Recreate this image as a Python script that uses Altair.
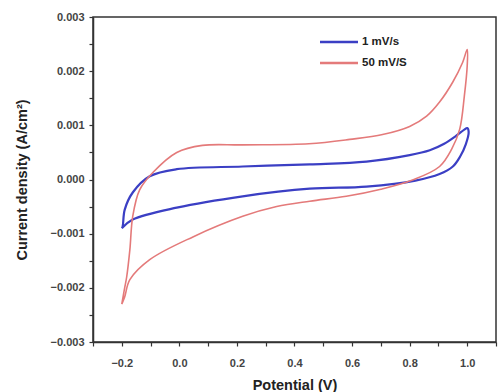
import altair as alt
import pandas as pd

# Cyclic voltammograms: each loop is listed in scan order (forward sweep, then reverse)
blue_label = "1 mV/s"
blue_v = [-0.2, -0.197, -0.19, -0.162, -0.103, -0.009, 0.22, 0.453, 0.65, 0.8, 0.87, 0.92, 0.96, 0.99, 1.0,
          1.005, 0.995, 0.975, 0.95, 0.904, 0.82, 0.65, 0.453, 0.22, -0.009, -0.162, -0.2]
blue_j = [-0.0009, -0.00087, -0.00056, -0.00024, 0.00006, 0.00019, 0.00024, 0.00028, 0.00033, 0.00045,
          0.00054, 0.00066, 0.0008, 0.00092, 0.00095,
          0.00088, 0.00065, 0.00042, 0.00024, 0.0001, -0.00002, -0.00013, -0.00017, -0.00031, -0.00052,
          -0.00074, -0.0009]

red_label = "50 mV/S"
red_v = [-0.2, -0.19, -0.183, -0.172, -0.162, -0.138, -0.092, -0.009, 0.08, 0.22, 0.45, 0.592, 0.706, 0.8,
         0.859, 0.904, 0.95, 0.984, 1.0,
         1.0, 0.99, 0.974, 0.946, 0.904, 0.81, 0.7, 0.58, 0.453, 0.338, 0.22, 0.047, -0.103, -0.172, -0.19, -0.2]
red_j = [-0.0023, -0.002, -0.0018, -0.0013, -0.00068, -0.00019, 0.00013, 0.0005, 0.00063, 0.00064, 0.00066,
         0.00074, 0.00083, 0.00098, 0.00117, 0.00143, 0.0018, 0.00216, 0.0024,
         0.0021, 0.00154, 0.00093, 0.00056, 0.00024, -0.00001, -0.00018, -0.00031, -0.0004, -0.0005, -0.00068,
         -0.00106, -0.00148, -0.00185, -0.00217, -0.0023]

labels = [blue_label, red_label]
colors = ["#3b3fc4", "#e47a7a"]
widths = [2.2, 1.6]

x_ticks = [round(-0.3 + 0.1 * i, 1) for i in range(15)]
y_ticks = [round(-0.003 + 0.0005 * i, 4) for i in range(13)]

rows = []
for lab, vs, js in [(blue_label, blue_v, blue_j), (red_label, red_v, red_j)]:
    for i, (v, j) in enumerate(zip(vs, js)):
        rows.append({"scan": lab, "step": i, "potential": v, "current": j})
df = pd.DataFrame(rows)

FONT = "Liberation Sans"
color_scale = alt.Scale(domain=labels, range=colors)

curves = alt.Chart(df).mark_line(interpolate="catmull-rom").encode(
    x=alt.X("potential:Q",
            scale=alt.Scale(domain=[-0.3, 1.1], nice=False, zero=False),
            axis=alt.Axis(title="Potential (V)", values=x_ticks,
                          labelExpr="abs(round(datum.value*10)) % 2 == 0 && datum.value > -0.25 && datum.value < 1.05 ? format(datum.value, '.1f') : ''",
                          grid=False)),
    y=alt.Y("current:Q",
            scale=alt.Scale(domain=[-0.003, 0.003], nice=False, zero=False),
            axis=alt.Axis(title="Current density (A/cm²)", values=y_ticks,
                          labelExpr="abs(round(datum.value*10000)) % 10 == 0 ? format(datum.value, '.3f') : ''",
                          grid=False)),
    color=alt.Color("scan:N", scale=color_scale, legend=None),
    strokeWidth=alt.StrokeWidth("scan:N", scale=alt.Scale(domain=labels, range=widths), legend=None),
    order="step:Q",
)

# Key in the upper right: a short stroke and a bold label per scan rate
key_layers = []
for k, (lab, col) in enumerate(zip(labels, colors)):
    row_y = 25 + 21 * k
    key_df = pd.DataFrame({"scan": [lab]})
    key_layers.append(
        alt.Chart(key_df).mark_rule(strokeWidth=2.5, color=col).encode(
            x=alt.value(227), x2=alt.value(265), y=alt.value(row_y)))
    key_layers.append(
        alt.Chart(key_df).mark_text(align="left", baseline="middle", font=FONT, fontWeight="bold",
                                    fontSize=11.5, color="#222").encode(
            x=alt.value(269), y=alt.value(row_y), text="scan:N"))

chart = alt.layer(curves, *key_layers).properties(
    width=403, height=325,
    autosize=alt.AutoSizeParams(type="none"),
    padding={"left": 93, "top": 17, "right": 3, "bottom": 50},
).configure_view(
    stroke="#333", strokeWidth=1.5
).configure_axis(
    domainColor="#333", domainWidth=1.5, tickColor="#333", tickWidth=1.2, tickSize=4,
    labelFont=FONT, labelFontWeight="bold", labelFontSize=11, labelColor="#444",
    titleFont=FONT, titleFontWeight="bold", titleFontSize=14.5, titleColor="#222",
).configure_axisX(
    labelPadding=11, titlePadding=10
).configure_axisY(
    labelPadding=5, titlePadding=21
)

chart.save("out.html", embed_options={"renderer": "svg", "actions": False})
